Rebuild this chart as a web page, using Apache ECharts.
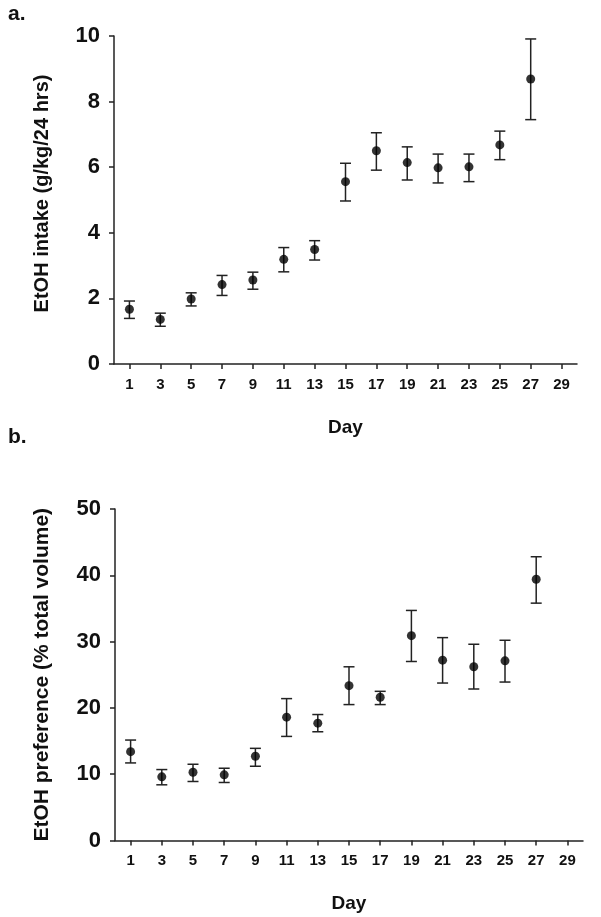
<!DOCTYPE html>
<html>
<head>
<meta charset="utf-8">
<script src="https://cdn.jsdelivr.net/npm/echarts@6/dist/echarts.min.js"></script>
<style>
html,body{margin:0;padding:0;background:#fff;}
#chart{width:601px;height:917px;}
</style>
</head>
<body>
<div id="chart"></div>
<script>
// ---- data ----
const days = [1, 3, 5, 7, 9, 11, 13, 15, 17, 19, 21, 23, 25, 27];
const dayTicks = [1, 3, 5, 7, 9, 11, 13, 15, 17, 19, 21, 23, 25, 27, 29];

// Panel a: EtOH intake (g/kg/24 hrs)
const intakeMean = [1.67, 1.36, 1.98, 2.42, 2.56, 3.19, 3.49, 5.56, 6.50, 6.14, 5.98, 6.01, 6.68, 8.69];
const intakeLow  = [1.39, 1.15, 1.77, 2.09, 2.28, 2.81, 3.17, 4.97, 5.91, 5.61, 5.52, 5.56, 6.23, 7.45];
const intakeHigh = [1.92, 1.55, 2.17, 2.70, 2.80, 3.55, 3.76, 6.12, 7.05, 6.62, 6.40, 6.40, 7.10, 9.91];

// Panel b: EtOH preference (% total volume)
const prefMean = [13.4, 9.6, 10.3, 9.9, 12.7, 18.6, 17.7, 23.35, 21.6, 30.9, 27.2, 26.2, 27.1, 39.4];
const prefLow  = [11.7, 8.4, 8.9, 8.75, 11.2, 15.7, 16.4, 20.5, 20.5, 27.0, 23.75, 22.85, 23.9, 35.8];
const prefHigh = [15.15, 10.7, 11.5, 10.9, 13.9, 21.4, 19.0, 26.2, 22.5, 34.7, 30.6, 29.6, 30.2, 42.8];

const yTicksA = [0, 2, 4, 6, 8, 10];
const yTicksB = [0, 10, 20, 30, 40, 50];

// ---- chart ----
const FONT = '"Liberation Sans", Arial, sans-serif';
const INK = '#111';
const chart = echarts.init(document.getElementById('chart'), null, {renderer: 'canvas'});

function errRender(params, api) {
  const x = api.value(0), lo = api.value(1), hi = api.value(2);
  const pt = api.coord([x, hi]);
  const pb = api.coord([x, lo]);
  const w = 5.5;
  const st = {stroke: '#222', lineWidth: 1.5};
  return {
    type: 'group',
    children: [
      {type: 'line', shape: {x1: pt[0], y1: pt[1], x2: pb[0], y2: pb[1]}, style: st},
      {type: 'line', shape: {x1: pt[0] - w, y1: pt[1], x2: pt[0] + w, y2: pt[1]}, style: st},
      {type: 'line', shape: {x1: pb[0] - w, y1: pb[1], x2: pb[0] + w, y2: pb[1]}, style: st}
    ]
  };
}

function xAxisCfg(gridIndex) {
  return {
    type: 'value', gridIndex: gridIndex, min: 0, max: 30,
    name: 'Day', nameLocation: 'middle', nameGap: 54,
    nameTextStyle: {fontFamily: FONT, fontWeight: 'bold', fontSize: 19, color: INK},
    axisLine: {show: true, onZero: false, lineStyle: {color: '#222', width: 1.5}},
    axisTick: {show: true, length: 5, customValues: dayTicks, lineStyle: {color: '#222', width: 1.5}},
    axisLabel: {customValues: dayTicks, margin: 13, fontFamily: FONT, fontWeight: 'bold', fontSize: 15, color: INK},
    splitLine: {show: false}
  };
}

function yAxisCfg(gridIndex, max, ticks, name, nameSize, namePad) {
  return {
    type: 'value', gridIndex: gridIndex, min: 0, max: max,
    name: name, nameLocation: 'middle', nameGap: 62, nameRotate: 90,
    nameTextStyle: {fontFamily: FONT, fontWeight: 'bold', fontSize: nameSize, color: INK, padding: namePad},
    axisLine: {show: true, lineStyle: {color: '#222', width: 1.5}},
    axisTick: {show: true, length: 5, customValues: ticks, lineStyle: {color: '#222', width: 1.5}},
    axisLabel: {customValues: ticks, margin: 14, fontFamily: FONT, fontWeight: 'bold', fontSize: 22, color: INK},
    splitLine: {show: false}
  };
}

const errA = days.map((d, i) => [d, intakeLow[i], intakeHigh[i]]);
const errB = days.map((d, i) => [d, prefLow[i], prefHigh[i]]);
const ptsA = days.map((d, i) => [d, intakeMean[i]]);
const ptsB = days.map((d, i) => [d, prefMean[i]]);

chart.setOption({
  animation: false,
  backgroundColor: '#fff',
  grid: [
    {left: 114, top: 36, right: 24, height: 328},
    {left: 115, top: 509, right: 18, height: 331.5}
  ],
  xAxis: [xAxisCfg(0), xAxisCfg(1)],
  yAxis: [
    yAxisCfg(0, 10, yTicksA, 'EtOH intake (g/kg/24 hrs)', 20, [0, 0, 0, 13]),
    yAxisCfg(1, 50, yTicksB, 'EtOH preference (% total volume)', 21, 0)
  ],
  graphic: [
    {type: 'text', left: 8, top: 4, style: {text: 'a.', font: 'bold 21px ' + FONT, fill: INK}},
    {type: 'text', left: 8, top: 427, style: {text: 'b.', font: 'bold 21px ' + FONT, fill: INK}}
  ],
  series: [
    {type: 'custom', xAxisIndex: 0, yAxisIndex: 0, renderItem: errRender, data: errA, encode: {x: 0, y: [1, 2]}, z: 2},
    {type: 'scatter', xAxisIndex: 0, yAxisIndex: 0, data: ptsA, symbol: 'circle', symbolSize: 9, itemStyle: {color: '#000'}, z: 3},
    {type: 'custom', xAxisIndex: 1, yAxisIndex: 1, renderItem: errRender, data: errB, encode: {x: 0, y: [1, 2]}, z: 2},
    {type: 'scatter', xAxisIndex: 1, yAxisIndex: 1, data: ptsB, symbol: 'circle', symbolSize: 9, itemStyle: {color: '#000'}, z: 3}
  ]
});
</script>
</body>
</html>
